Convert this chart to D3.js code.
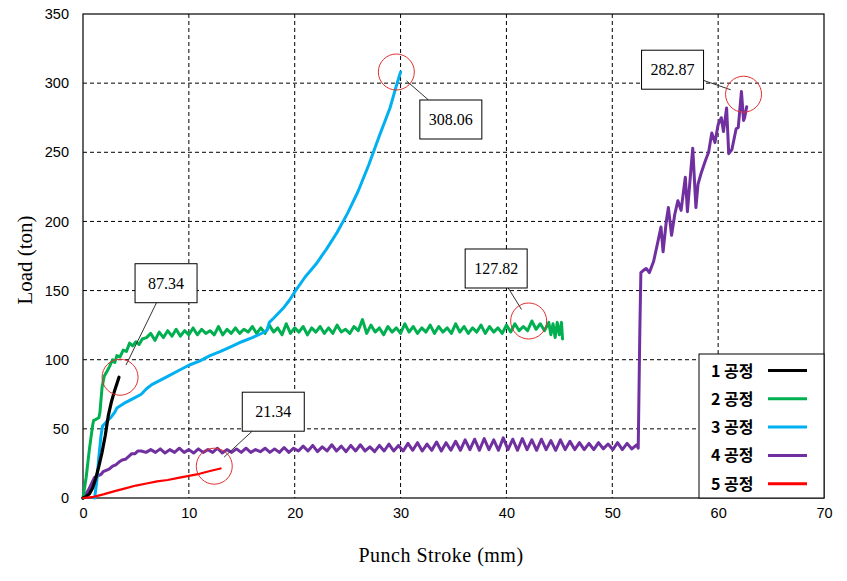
<!DOCTYPE html>
<html><head><meta charset="utf-8">
<script src="https://cdn.jsdelivr.net/npm/d3@7"></script>
<style>body{margin:0;background:#fff}svg{display:block}</style>
</head><body>
<svg id="chart" width="847" height="581"></svg>
<script>
// ---------- data ----------
const xTicks = [0,10,20,30,40,50,60,70];
const yTicks = [0,50,100,150,200,250,300,350];
const seriesNames = ["1 공정","2 공정","3 공정","4 공정","5 공정"];
const seriesColors = ["#000000","#00B050","#00B0F0","#7030A0","#FF0000"];

const s1 = [[0,0],[0.3,1],[0.6,3],[0.9,7],[1.2,14],[1.5,23],[1.8,33],[2.1,45],[2.4,60],[2.7,70],[3.0,78],[3.3,85],[3.4,87.34]];

const s2Start = [[0,0],[0.3,15],[0.6,35],[0.9,52],[1.0,56],[1.5,58],[1.6,62],[1.8,80],[2.0,88],[2.3,92],[2.5,95],[2.8,100],[3.0,98],[3.2,103],[3.5,102],[3.8,107],[4.1,106],[4.4,112],[4.7,110],[5.0,113],[5.3,111],[5.6,115]];
const s2OscX0 = 6, s2OscStep = 0.4;
const s2Osc = [116,119,114,120,116,121,117,122,117,121,
  118,123,118,122,119,121,118,124,118,122,
  119,123,119,122,120,124,119,123,119,125,
  120,123,118,126,119,123,120,124,118,123,
  120,124,119,123,119,125,120,122,119,124,
  121,129,119,125,120,123,118,124,120,123,
  119,126,120,124,119,123,120,125,119,124,
  120,123,119,126,120,124,119,123,120,125,
  119,124,120,123,119,125,120,126,121,124,
  121,128,122,126,121];
const s2End = [[44.0,127],[44.2,118],[44.4,126],[44.6,116],[44.8,127],[45.0,118],[45.2,127],[45.3,115]];

const s3 = [[1.1,0],[1.3,12],[1.5,30],[1.7,45],[1.85,52],[2.2,55],[2.6,58],[3.0,62],[3.2,65],[3.6,67],[4.0,69],[4.5,71],[5.0,73],[5.5,75],[6,79],[6.5,82],[7,84],[7.5,86],[8,88],[9,92],[10,96],[11,99],[12,103],[13,106],[14,109.5],[15,113],[16,116],[17,119.5],[17.4,121.5],[17.6,127],[18,130],[18.5,134],[19,138],[19.5,143],[20,149],[21,160],[22,169],[23,180],[24,192],[25,206],[26,222],[27,241],[28,262],[29,282],[29.6,298],[30,308.06]];

const s4Start = [[0,0],[0.3,3],[0.6,7],[0.9,12],[1.1,15],[1.4,16],[1.7,17],[1.9,19],[2.2,20],[2.5,21],[2.8,23],[3.1,24],[3.4,26],[3.7,27.5],[4.0,28],[4.3,30],[4.6,32],[4.9,32],[5.2,34]];
const s4OscX0 = 5.5, s4OscStep = 0.45;
const s4Osc = [34,33,35,33,35.5,32.5,35,33,36,33,35,32.5,35.5,33,35,33,36,32.5,35,33,35.5,33,36,33,35,33.5,36,33,35.5,33,36.5,33,36,
  34,37.5,34,38,33.5,37,34,38.5,34,37.5,33.5,38,34,38.5,34,37,33.5,38,34,39,34,38,
  34,39.5,34.5,40,34,39,34.5,40.5,34,40,34.5,41,
  34.5,42,35,42.5,34.5,43,35,42,34.5,43.5,35,42.5,34.5,43,35,42,34.5,42.5,35,41.5,34.5,42,35,41,
  35,40,35,39.5,35,40,35.5,39,35,40,35,39.5,35.5,38.5];
const s4End = [[52.45,36],[52.6,120],[52.7,163],[53.0,165],[53.2,166],[53.5,163],[53.9,171],[54.3,185],[54.6,196],[54.8,178],[55.1,200],[55.3,210],[55.6,190],[55.9,205],[56.2,215],[56.5,208],[56.9,232],[57.1,207],[57.4,235],[57.6,253],[57.9,210],[58.1,227],[58.4,235],[58.8,244],[59.1,250],[59.4,264],[59.7,257],[60.0,270],[60.3,275],[60.5,265],[60.8,282],[61.0,249],[61.3,252],[61.7,267],[61.9,268],[62.2,294],[62.4,273],[62.5,275],[62.7,283]];

const s5 = [[0,0],[1,0.8],[2,2.8],[3,5],[4,7],[5,9],[6,10.5],[7,12],[8,13],[9,14.5],[10,16],[11,17.5],[12,19.5],[13,21.34]];

// annotations: circle centre (data units) and label text
const annX = [3.5, 12.4, 29.6, 42.1, 62.4];
const annY = [87.34, 23, 308.06, 128, 292];
const annText = ["87.34","21.34","308.06","127.82","282.87"];

// ---------- build ----------
const svg = d3.select("#chart");
const L = 83, R = 824, T = 14, B = 498;
const x = d3.scaleLinear().domain([0,70]).range([L,R]);
const y = d3.scaleLinear().domain([0,350]).range([B,T]);

function osc(x0, step, vals){ return vals.map((v,i)=>[x0+i*step, v]); }
const series = [
  s1,
  s2Start.concat(osc(s2OscX0,s2OscStep,s2Osc), s2End),
  s3,
  s4Start.concat(osc(s4OscX0,s4OscStep,s4Osc), s4End),
  s5
];
const widths = [3.2,3,3,3,2.2];

// grid
const g = svg.append("g");
g.selectAll(".vg").data(xTicks.filter(d=>d>0&&d<70)).enter().append("line")
  .attr("x1",d=>x(d)).attr("x2",d=>x(d)).attr("y1",T).attr("y2",B)
  .attr("stroke","#000").attr("stroke-width",1).attr("stroke-dasharray","4,3");
g.selectAll(".hg").data(yTicks.filter(d=>d>0&&d<350)).enter().append("line")
  .attr("x1",L).attr("x2",R).attr("y1",d=>y(d)).attr("y2",d=>y(d))
  .attr("stroke","#000").attr("stroke-width",1).attr("stroke-dasharray","4,3");

// axes
const xAxis = d3.axisBottom(x).tickValues(xTicks).tickSize(0).tickPadding(10);
const yAxis = d3.axisLeft(y).tickValues(yTicks).tickSize(0).tickPadding(14);
const ax = svg.append("g").attr("transform",`translate(0,${B})`).call(xAxis);
const ay = svg.append("g").attr("transform",`translate(${L},0)`).call(yAxis);
[ax,ay].forEach(a=>{
  a.select(".domain").remove();
  a.selectAll("text").attr("font-family","'Liberation Sans', Arial, sans-serif").attr("font-size","14.5px").attr("fill","#000");
});

// frame
svg.append("rect").attr("x",L).attr("y",T).attr("width",R-L).attr("height",B-T)
  .attr("fill","none").attr("stroke","#000").attr("stroke-width",1.2);

// lines
const line = d3.line().x(d=>x(d[0])).y(d=>y(d[1]));
const drawOrder = [3,1,2,0,4];
drawOrder.forEach(i=>{
  svg.append("path").datum(series[i]).attr("d",line)
    .attr("fill","none").attr("stroke",seriesColors[i])
    .attr("stroke-width", widths[i]).attr("stroke-linejoin","round").attr("stroke-linecap","round");
});

// annotations
const boxOff = [[46,-94],[59,-54.5],[54.5,47.5],[-32.5,-52.5],[-71,-24.5]];
const bw = 62, bh = 39, rr = 18;
annText.forEach((t,i)=>{
  const cx = x(annX[i]), cy = y(annY[i]);
  const bx = cx + boxOff[i][0], by = cy + boxOff[i][1];
  const dx = cx-bx, dy = cy-by, dist = Math.hypot(dx,dy);
  const tBox = Math.min((bw/2)/Math.abs(dx||1e-9),(bh/2)/Math.abs(dy||1e-9));
  const sx = bx + dx*tBox, sy = by + dy*tBox;
  const ex = cx - dx/dist*rr*0.75, ey = cy - dy/dist*rr*0.75;
  svg.append("line").attr("x1",sx).attr("y1",sy).attr("x2",ex).attr("y2",ey)
    .attr("stroke","#333").attr("stroke-width",1);
  svg.append("circle").attr("cx",cx).attr("cy",cy).attr("r",rr)
    .attr("fill","none").attr("stroke","#E03030").attr("stroke-width",1);
  svg.append("rect").attr("x",bx-bw/2).attr("y",by-bh/2).attr("width",bw).attr("height",bh)
    .attr("fill","#fff").attr("stroke","#000").attr("stroke-width",1);
  svg.append("text").attr("x",bx).attr("y",by+5.5).attr("text-anchor","middle")
    .attr("font-family","'Liberation Serif','Times New Roman',serif").attr("font-size","16px")
    .text(t);
});

// legend
const lg = svg.append("g");
lg.append("rect").attr("x",699).attr("y",354).attr("width",R-699).attr("height",B-354)
  .attr("fill","#fff").attr("stroke","#000").attr("stroke-width",1);
seriesNames.forEach((n,i)=>{
  const ly = 370.5 + i*28.3;
  lg.append("text").attr("x",711).attr("y",ly+6)
    .attr("font-family","'Noto Sans CJK KR','Noto Sans',sans-serif").attr("font-weight","bold")
    .attr("font-size","16px").text(n);
  lg.append("line").attr("x1",768).attr("x2",807).attr("y1",ly).attr("y2",ly)
    .attr("stroke",seriesColors[i]).attr("stroke-width",3);
});

// axis titles
svg.append("text").attr("x",441).attr("y",562).attr("text-anchor","middle")
  .attr("font-family","'Liberation Serif','Times New Roman',serif").attr("font-size","20px")
  .attr("letter-spacing","0.5px").text("Punch Stroke (mm)");
svg.append("text").attr("transform","translate(32,260) rotate(-90)").attr("text-anchor","middle")
  .attr("font-family","'Liberation Serif','Times New Roman',serif").attr("font-size","21px")
  .text("Load (ton)");
</script>
</body></html>
